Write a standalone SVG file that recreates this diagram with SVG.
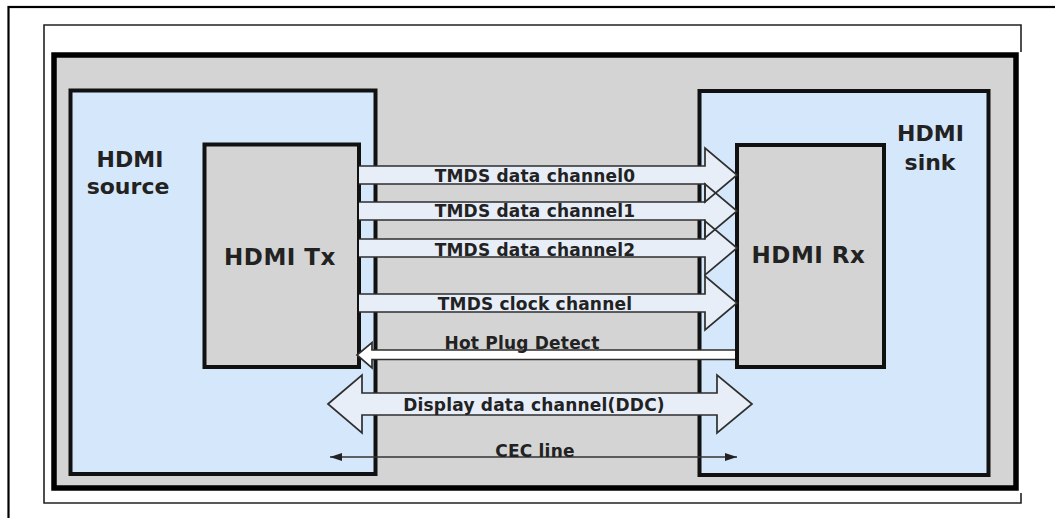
<svg xmlns="http://www.w3.org/2000/svg" width="1055" height="518" viewBox="0 0 1055 518">
<defs>
<style>
.lbl{font-family:"DejaVu Sans","Liberation Sans",sans-serif;font-weight:bold;fill:#222;}
.big{font-size:22px;}
.chip{font-size:23px;letter-spacing:0.5px;}
.ch{font-size:17px;text-anchor:middle;letter-spacing:0.2px;}
.blue{fill:#d5e7fb;stroke:#111;stroke-width:4;}
.gray{fill:#d4d4d4;stroke:#111;stroke-width:4;}
.afill{fill:#e8eef8;stroke:none;}
.aline{fill:none;stroke:#2e2e2e;stroke-width:1.7;stroke-linejoin:miter;}
</style>
<marker id="cec" viewBox="0 0 12 8" refX="12" refY="4" markerWidth="12" markerHeight="8" markerUnits="userSpaceOnUse" orient="auto-start-reverse">
<path d="M0,0 L12,4 L0,8 Z" fill="#222"/>
</marker>
</defs>
<rect x="0" y="0" width="1055" height="518" fill="#fff"/>
<rect x="8.5" y="7" width="1060" height="520" fill="#fff" stroke="#000" stroke-width="2.2"/>
<path d="M1021,52 V25 H44 V503 H1021 V493" fill="none" stroke="#222" stroke-width="1.6"/>
<g id="frame">
<rect x="54" y="55" width="962" height="433" fill="#d4d4d4" stroke="#000" stroke-width="5.5"/>
</g>
<g id="source">
<rect class="blue" x="70.5" y="90.5" width="305" height="383.5"/>
<text class="lbl big" x="130" y="167" text-anchor="middle">HDMI</text>
<text class="lbl big" x="128" y="194" text-anchor="middle">source</text>
</g>
<g id="sink">
<rect class="blue" x="699.5" y="91" width="289" height="384"/>
<text class="lbl big" x="930.5" y="141" text-anchor="middle">HDMI</text>
<text class="lbl big" x="930" y="170" text-anchor="middle">sink</text>
</g>
<g id="tx">
<rect class="gray" x="204.5" y="144.5" width="154.5" height="222.5"/>
<text class="lbl chip" x="280" y="265" text-anchor="middle">HDMI Tx</text>
</g>
<g id="rx">
<rect class="gray" x="737" y="145" width="147" height="222"/>
<text class="lbl chip" x="808.5" y="263" text-anchor="middle">HDMI Rx</text>
</g>
<g id="connectors">
<path class="afill" d="M359,166 H705 V148 L737,175 L705,202 V184 H359 Z"/>
<path class="afill" d="M359,202 H705 V184 L737,211 L705,238 V220 H359 Z"/>
<path class="afill" d="M359,239 H705 V221 L737,248 L705,275 V257 H359 Z"/>
<path class="afill" d="M359,294 H705 V276 L737,303 L705,330 V312 H359 Z"/>
<path fill="#ffffff" d="M735,350 H372 V342.5 L357,355 L372,368 V359.5 H735 Z"/>
<path class="afill" d="M328,404 L362,375 V393 H717 V375 L752,404 L717,433 V415 H362 V433 Z"/>
<path class="aline" d="M359,166 H705 V148 L737,175 L705,202 V184 H359"/>
<path class="aline" d="M359,202 H705 V184 L737,211 L705,238 V220 H359"/>
<path class="aline" d="M359,239 H705 V221 L737,248 L705,275 V257 H359"/>
<path class="aline" d="M359,294 H705 V276 L737,303 L705,330 V312 H359"/>
<path class="aline" d="M735,350 H372 V342.5 L357,355 L372,368 V359.5 H735"/>
<path class="aline" d="M328,404 L362,375 V393 H717 V375 L752,404 L717,433 V415 H362 V433 Z"/>
<line x1="330" y1="457" x2="737" y2="457" stroke="#333" stroke-width="1.5" marker-start="url(#cec)" marker-end="url(#cec)"/>
<text class="lbl ch" x="535" y="182">TMDS data channel0</text>
<text class="lbl ch" x="535" y="217">TMDS data channel1</text>
<text class="lbl ch" x="535" y="256">TMDS data channel2</text>
<text class="lbl ch" x="535" y="310">TMDS clock channel</text>
<text class="lbl ch" x="522" y="349">Hot Plug Detect</text>
<text class="lbl ch" x="534" y="411">Display data channel(DDC)</text>
<text class="lbl ch" x="535" y="457">CEC line</text>
</g>
</svg>
